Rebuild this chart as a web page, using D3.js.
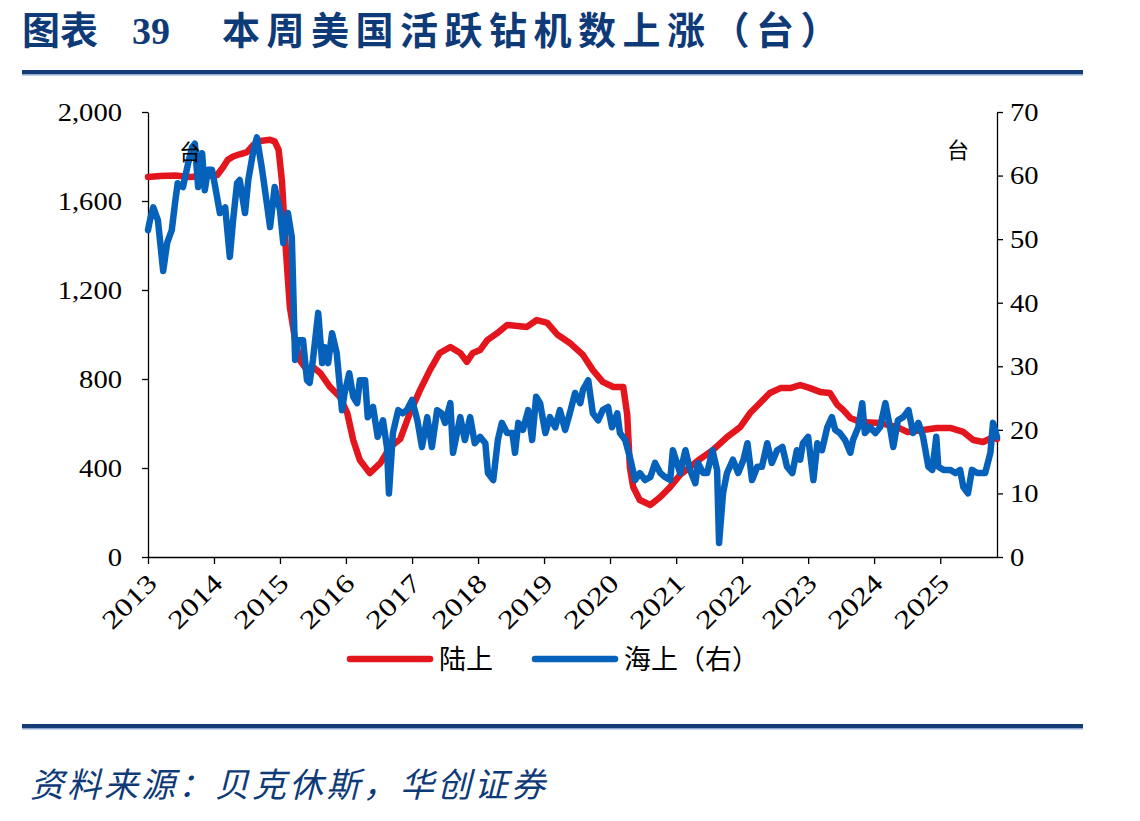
<!DOCTYPE html>
<html><head><meta charset="utf-8">
<script src="https://cdn.jsdelivr.net/npm/d3@7/dist/d3.min.js"></script>
<style>body{margin:0;background:#fff}</style>
</head><body>
<svg id="c" width="1140" height="821"></svg>
<script>
// ---- data (decimal years) ----
const yearTicks = [2013,2014,2015,2016,2017,2018,2019,2020,2021,2022,2023,2024,2025];
const leftTicks = [0,400,800,1200,1600,2000];
const rightTicks = [0,10,20,30,40,50,60,70];
const seriesNames = ["陆上","海上（右）"];

const landYears = [2013.00,2013.18,2013.41,2013.64,2013.86,2014.05,2014.14,2014.21,2014.29,2014.39,2014.50,2014.59,2014.70,2014.85,2014.92,2014.98,2015.03,2015.09,2015.15,2015.23,2015.30,2015.41,2015.50,2015.61,2015.76,2015.91,2016.02,2016.11,2016.21,2016.36,2016.52,2016.67,2016.82,2016.97,2017.12,2017.27,2017.42,2017.58,2017.73,2017.83,2017.92,2018.03,2018.14,2018.29,2018.44,2018.74,2018.89,2019.05,2019.20,2019.39,2019.59,2019.74,2019.89,2020.05,2020.20,2020.26,2020.30,2020.35,2020.45,2020.61,2020.76,2020.91,2021.06,2021.21,2021.36,2021.56,2021.77,2021.97,2022.12,2022.27,2022.42,2022.58,2022.73,2022.88,2023.03,2023.18,2023.33,2023.44,2023.53,2023.64,2023.79,2024.09,2024.35,2024.50,2024.74,2024.95,2025.15,2025.35,2025.50,2025.65,2025.80,2025.86];
const landValues = [1708,1712,1715,1708,1712,1717,1753,1785,1800,1810,1820,1850,1870,1875,1868,1830,1690,1380,1124,975,885,840,854,827,764,719,647,526,436,377,422,494,530,650,750,840,917,944,917,877,917,930,975,1006,1043,1034,1065,1052,1000,962,908,840,787,764,764,640,404,315,256,234,270,315,370,404,440,481,539,584,647,692,737,759,759,773,759,742,737,685,661,625,607,602,584,562,571,580,580,562,526,517,539,530];

const offYears = [2013.00,2013.03,2013.08,2013.15,2013.23,2013.29,2013.36,2013.41,2013.45,2013.53,2013.61,2013.67,2013.71,2013.76,2013.82,2013.86,2013.91,2013.97,2014.02,2014.09,2014.17,2014.24,2014.29,2014.35,2014.39,2014.47,2014.52,2014.59,2014.65,2014.73,2014.80,2014.85,2014.92,2015.00,2015.05,2015.12,2015.18,2015.23,2015.27,2015.35,2015.41,2015.45,2015.50,2015.58,2015.64,2015.68,2015.73,2015.79,2015.86,2015.94,2015.98,2016.05,2016.11,2016.17,2016.21,2016.29,2016.33,2016.41,2016.48,2016.56,2016.62,2016.65,2016.71,2016.79,2016.86,2016.92,2017.00,2017.08,2017.15,2017.23,2017.30,2017.38,2017.45,2017.50,2017.58,2017.62,2017.73,2017.80,2017.88,2017.95,2018.03,2018.11,2018.15,2018.23,2018.30,2018.36,2018.44,2018.52,2018.56,2018.61,2018.68,2018.76,2018.82,2018.88,2018.94,2019.02,2019.09,2019.17,2019.24,2019.32,2019.39,2019.47,2019.55,2019.59,2019.67,2019.74,2019.82,2019.89,2019.97,2020.03,2020.11,2020.15,2020.23,2020.30,2020.38,2020.45,2020.53,2020.61,2020.68,2020.76,2020.83,2020.91,2020.95,2021.06,2021.14,2021.21,2021.29,2021.33,2021.41,2021.47,2021.55,2021.62,2021.65,2021.71,2021.77,2021.86,2021.94,2022.02,2022.08,2022.15,2022.23,2022.30,2022.38,2022.45,2022.53,2022.61,2022.68,2022.76,2022.83,2022.88,2022.92,2023.00,2023.08,2023.14,2023.21,2023.29,2023.36,2023.41,2023.48,2023.56,2023.64,2023.68,2023.76,2023.82,2023.86,2023.94,2024.02,2024.09,2024.17,2024.24,2024.29,2024.36,2024.44,2024.52,2024.59,2024.67,2024.74,2024.82,2024.88,2024.94,2024.97,2025.05,2025.15,2025.23,2025.30,2025.35,2025.42,2025.48,2025.56,2025.68,2025.76,2025.80,2025.86];
const offValues = [51.4,53,55,53,45,49.4,51.4,55.7,58.8,58.2,62,64.5,65,58.2,63.5,57.7,60.9,60.9,58.2,54.1,55,47.2,53,58.8,59.3,54.1,59.3,63.5,66,60.9,55.7,51.9,58.2,54.6,49.4,54.1,50.3,31,34.1,34.1,27.8,27.4,31,38.4,30.5,33,30.5,35.2,32.1,23.1,25.8,28.9,25.2,24.2,27.8,27.8,22,23.6,18.9,21.5,17.3,10,19.5,23.1,22.6,23.1,24.7,21.5,17.3,22,17.3,23.1,22.6,21.1,24.2,16.4,22,18.4,22,17.9,18.9,17.9,13.2,12.1,18.4,21.1,19.5,19.5,16.4,21.1,20,23.1,18.4,25.2,24.2,19.5,22,20.4,23.1,20,22.6,25.8,24.2,26.3,27.8,22.6,21.5,23.1,23.6,20.4,22.6,19.5,18.4,15.7,12.1,13.2,12.1,12.6,14.8,13.2,12.6,12.1,16.8,13.2,16.8,13.7,11.6,14.8,13.2,13.2,16.8,13.7,2.2,10,13.2,15.3,13.2,15.3,17.9,12.1,14.2,14.2,17.9,14.8,16.8,17.3,14.2,13.2,16.8,15.3,17.9,18.9,12.1,17.9,16.8,20.4,22,20,19.5,18.4,16.4,18.4,20.4,24.2,19.5,20.4,19.5,20.4,24.2,20.4,17.3,21.5,22,23.1,19.5,21.1,18.9,14.2,13.7,18.9,14.2,13.7,13.7,13.2,13.7,11,10,13.7,13.2,13.2,16.4,21.1,18.9];

// ---- helpers ----
function dy(y){const yr=Math.floor(y);const s=new Date(yr,0,1),e=new Date(yr+1,0,1);return new Date(+s+(y-yr)*(e-s));}
const land = landYears.map((y,i)=>({d:dy(y),v:landValues[i]}));
const off = offYears.map((y,i)=>({d:dy(y),v:offValues[i]}));

const svg = d3.select("#c");
const L=148,R=997,T=112,B=557;
const x = d3.scaleTime().domain([new Date(2013,0,1), dy(2025.86)]).range([L,R]);
const yL = d3.scaleLinear().domain([0,2000]).range([B,T]);
const yR = d3.scaleLinear().domain([0,70]).range([B,T]);

const navy="#0F3A78", serif="'Liberation Serif','Times New Roman',serif", cjk="'Noto Sans CJK SC','Noto Sans',sans-serif";
const RED="#E3161E", BLUE="#0561BA";

// title
svg.append("text").attr("x",22).attr("y",44).attr("fill",navy).attr("font-family",cjk).attr("font-weight",700).attr("font-size",38)
  .text("图表");
svg.append("text").attr("x",132).attr("y",44).attr("fill",navy).attr("font-family",serif).attr("font-weight",700).attr("font-size",38)
  .text("39");
svg.append("text").attr("x",222).attr("y",44).attr("fill",navy).attr("font-family",cjk).attr("font-weight",700).attr("font-size",38).attr("letter-spacing",6.5)
  .text("本周美国活跃钻机数上涨（台）");
// rules
function rule(y){
  svg.append("rect").attr("x",22).attr("y",y).attr("width",1061).attr("height",4).attr("fill","#143C78");
  svg.append("rect").attr("x",22).attr("y",y+4).attr("width",1061).attr("height",1.5).attr("fill","#8FA9CF");
}
rule(70); rule(724);

// axes
const gL = svg.append("g").attr("transform",`translate(${L},0)`)
  .call(d3.axisLeft(yL).tickValues(leftTicks).tickSize(6).tickSizeOuter(0).tickFormat(d3.format(",")));
const gR = svg.append("g").attr("transform",`translate(${R},0)`)
  .call(d3.axisRight(yR).tickValues(rightTicks).tickSize(6).tickSizeOuter(0).tickFormat(d3.format("d")));
const gB = svg.append("g").attr("transform",`translate(0,${B})`)
  .call(d3.axisBottom(x).tickValues(yearTicks.map(y=>new Date(y,0,1))).tickSize(7).tickSizeOuter(0).tickFormat(d3.timeFormat("%Y")));
[gL,gR,gB].forEach(g=>{
  g.selectAll("path,line").attr("stroke","#000").attr("stroke-width",1.3);
  g.selectAll("text").attr("font-family",serif).attr("font-size",26).attr("fill","#000");
});
gL.selectAll("text").attr("x",0).attr("transform","translate(-26,0) scale(1.1,1)");
gR.selectAll("text").attr("x",0).attr("transform","translate(13,0) scale(1.1,1)");
gB.selectAll("text").attr("text-anchor","end").attr("dy","0.32em").attr("y",0)
  .attr("transform","translate(4,22) rotate(-45) scale(1.25,1)");

// lines
const lineL = d3.line().x(d=>x(d.d)).y(d=>yL(d.v));
const lineR = d3.line().x(d=>x(d.d)).y(d=>yR(d.v));
svg.append("path").datum(land).attr("d",lineL).attr("fill","none").attr("stroke",RED).attr("stroke-width",6.5).attr("stroke-linejoin","round").attr("stroke-linecap","round");
svg.append("path").datum(off).attr("d",lineR).attr("fill","none").attr("stroke",BLUE).attr("stroke-width",6.5).attr("stroke-linejoin","round").attr("stroke-linecap","round");

// unit labels
svg.append("text").attr("x",190).attr("y",160).attr("text-anchor","middle").attr("font-family",cjk).attr("font-size",22).text("台");
svg.append("text").attr("x",958).attr("y",158).attr("text-anchor","middle").attr("font-family",cjk).attr("font-size",22).text("台");

// legend
const leg = [{c:RED,x0:350,t:seriesNames[0]},{c:BLUE,x0:535,t:seriesNames[1]}];
leg.forEach(l=>{
  svg.append("line").attr("x1",l.x0).attr("x2",l.x0+80).attr("y1",659).attr("y2",659).attr("stroke",l.c).attr("stroke-width",6.5).attr("stroke-linecap","round");
  svg.append("text").attr("x",l.x0+89).attr("y",669).attr("font-family",cjk).attr("font-size",27).text(l.t);
});

// source
svg.append("text").attr("x",30).attr("y",797).attr("fill",navy).attr("font-family",cjk).attr("font-size",34).attr("font-style","italic").attr("letter-spacing",3)
  .text("资料来源：贝克休斯，华创证券");
</script>
</body></html>
